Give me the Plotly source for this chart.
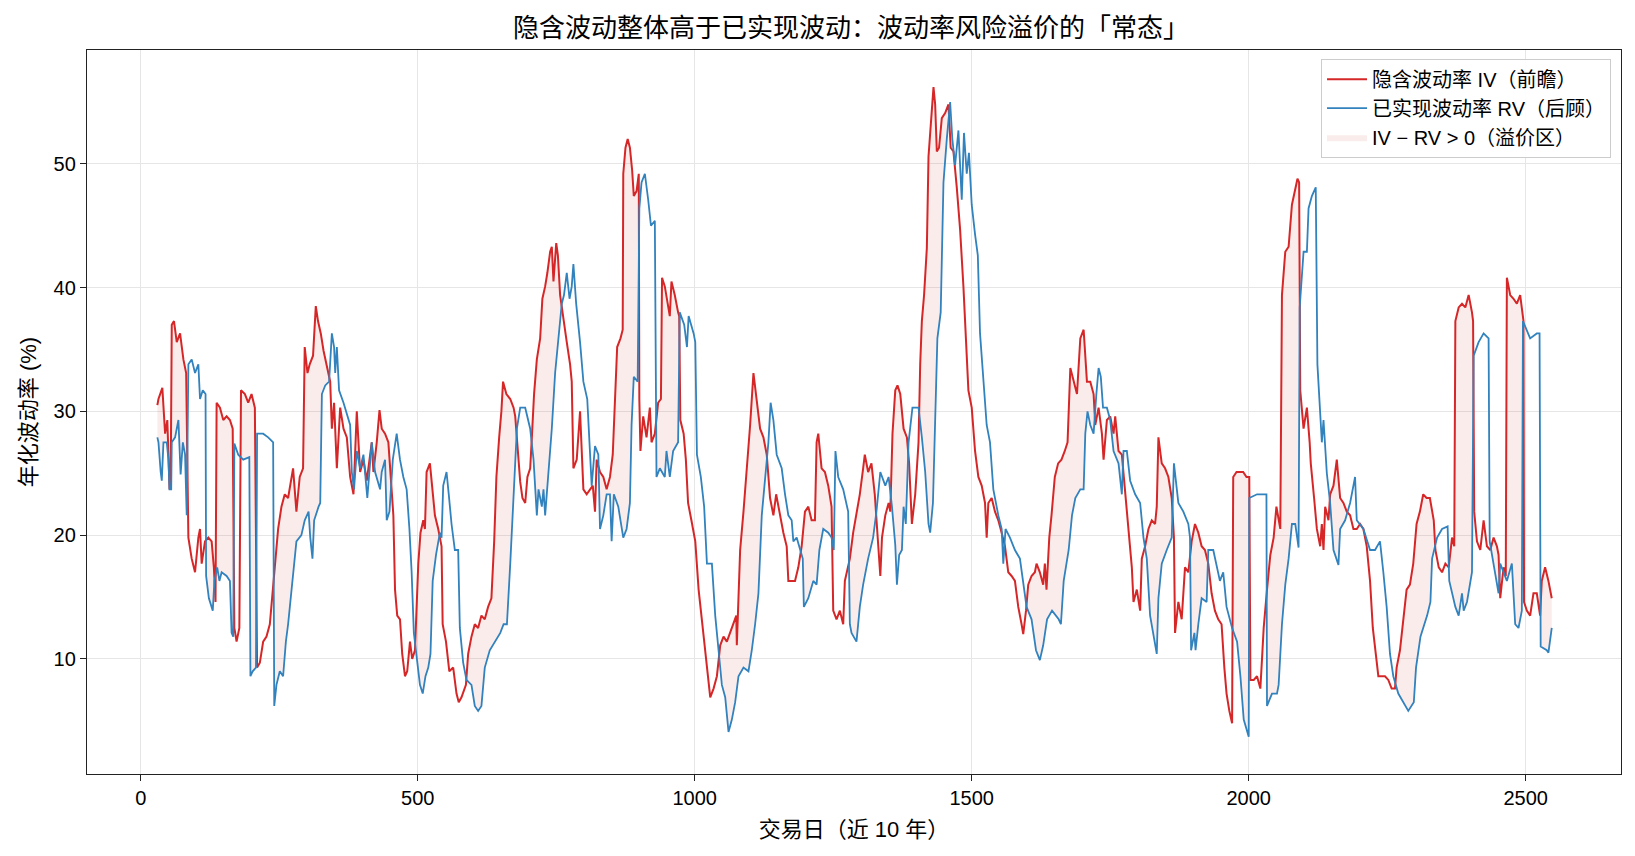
import numpy as np
import plotly.graph_objects as go

# ---- data ----
iv_day = [30,32,39,44,48,52,54,56,60,65,71,77,82,86,92,98,104,107,110,116,122,128,132,135,137,143,149,155,161,166,169,173,178,181,188,194,200,206,210,215,221,227,233,238,242,248,254,260,266,272,275,281,287,293,296,301,305,311,316,320,325,330,336,342,345,349,354,360,366,372,378,384,390,396,402,408,417,420,426,431,435,441,447,451,456,459,463,468,472,477,481,486,490,495,498,501,505,510,513,516,522,527,531,537,543,545,551,557,564,570,574,579,587,591,597,603,609,615,621,627,633,638,642,647,651,654,660,667,673,676,680,685,689,694,698,703,706,710,715,721,725,730,734,739,742,745,750,753,757,763,769,775,778,781,787,793,799,805,811,816,820,823,829,835,841,847,852,856,860,866,870,871,875,879,883,887,890,895,899,900,902,907,913,919,922,928,934,939,941,946,952,955,958,964,970,972,974,980,984,988,994,1001,1007,1013,1019,1023,1028,1034,1040,1046,1052,1058,1064,1070,1075,1076,1079,1082,1088,1094,1100,1106,1112,1118,1124,1130,1136,1142,1147,1154,1160,1166,1169,1175,1181,1187,1193,1199,1205,1211,1217,1220,1223,1229,1235,1241,1247,1250,1256,1262,1268,1271,1277,1280,1286,1292,1298,1304,1307,1313,1319,1325,1331,1335,1338,1344,1350,1353,1357,1362,1366,1371,1377,1383,1387,1392,1398,1404,1407,1410,1414,1419,1422,1426,1431,1434,1437,1441,1446,1452,1458,1462,1467,1473,1479,1485,1490,1494,1500,1506,1512,1518,1524,1527,1530,1536,1542,1548,1554,1560,1566,1572,1578,1584,1590,1593,1598,1602,1608,1614,1617,1623,1629,1632,1635,1640,1644,1650,1656,1662,1668,1673,1678,1684,1690,1696,1702,1708,1714,1720,1723,1729,1735,1738,1744,1750,1756,1759,1765,1771,1777,1783,1789,1792,1798,1804,1807,1813,1819,1825,1831,1834,1837,1843,1849,1855,1861,1865,1867,1873,1879,1885,1891,1897,1903,1909,1915,1921,1927,1933,1939,1945,1951,1956,1960,1965,1970,1972,1978,1984,1990,1996,2001,2003,2009,2015,2021,2024,2027,2033,2039,2045,2050,2057,2060,2066,2072,2078,2084,2088,2091,2093,2099,2105,2110,2112,2118,2123,2129,2132,2135,2138,2144,2147,2153,2159,2165,2171,2177,2183,2189,2195,2201,2207,2213,2219,2224,2228,2234,2240,2246,2252,2258,2264,2267,2273,2279,2285,2291,2297,2303,2309,2315,2321,2327,2334,2337,2343,2349,2355,2361,2367,2371,2373,2379,2385,2391,2397,2403,2405,2407,2412,2418,2424,2430,2436,2442,2448,2451,2454,2460,2464,2466,2472,2478,2484,2490,2496,2497,2502,2508,2514,2520,2526,2529,2535,2541,2547]
iv_val = [30.5,31.0,31.9,28.2,29.3,23.7,23.9,37.0,37.3,35.6,36.3,34.2,33.1,19.8,18.1,17.0,19.8,20.5,17.7,19.5,19.8,19.5,17.4,14.6,30.7,30.3,29.3,29.6,29.3,28.6,12.5,11.4,12.5,31.7,31.4,30.7,31.4,30.3,9.3,9.7,11.4,11.8,12.8,15.3,17.4,20.5,22.3,23.3,23.0,24.7,25.4,21.9,24.7,25.4,35.2,33.1,33.8,34.5,38.5,37.3,36.3,34.9,33.5,32.4,28.6,30.7,25.4,30.3,28.6,27.9,24.7,23.3,30.0,25.1,26.1,24.4,27.5,25.1,27.5,30.1,28.6,28.2,27.5,24.7,21.6,15.6,13.5,13.2,10.4,8.6,9.0,11.4,10.0,10.7,14.2,17.7,20.2,21.2,20.5,25.1,25.8,23.3,21.6,20.5,19.1,12.8,11.4,9.0,9.3,7.2,6.5,6.9,7.9,10.4,11.8,12.8,12.5,13.5,13.2,14.2,14.9,19.5,24.7,27.9,30.0,32.4,31.4,31.0,30.3,29.6,27.2,24.3,23.0,22.6,24.7,25.4,27.9,31.4,34.2,35.9,39.1,40.1,41.2,42.9,43.3,40.5,43.6,42.6,39.4,37.3,35.6,33.8,32.4,25.4,26.1,30.0,23.7,23.3,23.7,24.0,21.9,26.1,25.1,24.7,23.7,24.7,26.5,31.0,35.2,35.9,36.6,49.2,51.3,52.0,51.3,49.5,47.4,47.8,49.2,31.0,26.8,29.6,27.9,30.3,27.5,28.2,30.7,31.0,40.8,40.1,38.7,37.7,40.5,39.4,38.0,37.7,29.3,28.2,26.1,22.6,21.2,19.5,15.6,13.2,10.4,9.3,6.9,7.6,8.6,11.1,11.8,11.4,12.1,12.8,13.5,11.1,14.9,18.8,21.9,25.1,28.9,33.1,31.0,28.6,27.9,26.5,23.0,21.6,23.3,21.6,20.2,19.1,16.3,16.3,16.3,17.4,19.1,21.9,22.3,21.2,21.2,27.5,28.2,25.4,25.1,24.0,22.3,13.9,13.2,13.9,12.8,16.3,17.7,18.1,20.2,21.6,23.3,25.4,26.5,25.1,25.8,23.3,19.8,16.7,19.8,21.6,22.6,21.9,28.2,31.7,32.1,31.4,28.6,27.9,25.8,20.9,23.3,27.5,33.8,37.3,39.4,43.2,50.6,53.4,56.2,54.8,51.0,51.3,53.7,54.1,54.8,51.3,51.0,48.1,44.7,40.1,35.6,31.7,30.3,26.8,24.7,24.0,22.6,19.8,22.6,23.0,21.9,21.2,20.2,19.1,17.0,16.7,16.3,14.2,12.8,12.0,13.9,16.0,16.7,17.0,17.7,17.0,16.0,17.7,15.6,19.8,21.6,24.7,25.8,26.1,26.8,27.5,33.5,32.4,31.4,35.9,36.6,32.4,32.4,31.4,28.9,30.3,28.2,26.1,29.3,29.6,28.2,29.6,26.8,26.5,23.3,20.5,17.4,14.6,15.6,13.9,18.1,19.1,20.5,21.2,20.9,22.3,27.9,25.8,25.4,24.7,23.0,19.8,12.1,14.6,13.2,17.4,17.0,19.5,20.9,20.2,19.1,18.8,17.7,15.3,13.9,13.2,12.8,9.3,7.2,5.8,4.8,24.7,25.1,25.1,25.1,24.7,24.7,8.3,8.3,8.6,7.6,10.0,12.5,15.6,18.4,19.8,22.3,20.5,39.4,42.9,43.3,46.7,48.1,48.8,48.5,31.7,28.6,30.3,27.5,25.8,23.0,20.5,19.1,20.9,18.8,22.3,21.2,23.3,24.0,26.1,23.0,22.6,21.9,21.6,20.5,20.5,20.9,20.5,19.1,16.3,12.5,11.1,8.6,8.6,8.6,8.3,7.6,7.6,9.3,10.7,13.2,15.6,16.0,17.7,20.9,21.9,23.3,23.0,23.0,21.2,18.8,17.4,17.0,17.7,17.4,19.8,19.1,37.3,38.4,38.7,38.4,39.4,38.0,37.3,21.9,19.5,18.8,21.2,19.1,18.8,19.8,19.1,18.4,14.9,17.4,16.7,40.8,39.4,39.1,38.7,39.4,37.3,14.6,13.9,13.5,15.3,15.3,13.5,16.3,17.4,16.3,14.9]

rv_day = [30,32,36,38,41,47,50,52,55,56,62,68,72,76,80,83,86,92,98,104,107,112,117,118,123,130,133,138,142,146,155,161,164,167,169,176,185,196,198,202,208,210,221,230,239,241,245,251,257,262,266,272,277,281,290,296,303,306,310,313,321,324,327,333,340,345,349,351,354,358,366,373,378,381,385,390,396,402,409,417,423,432,435,441,444,449,455,462,468,474,480,485,489,493,499,504,509,514,519,523,527,533,540,543,546,552,556,561,567,573,576,582,588,597,603,609,615,621,630,640,649,655,661,667,673,679,685,694,703,709,715,718,724,727,730,736,742,748,754,760,764,769,774,778,781,786,793,799,806,811,814,820,826,829,835,841,847,850,854,862,871,877,883,886,890,897,900,904,910,916,921,928,931,937,946,949,955,961,970,973,981,986,989,998,1001,1004,1011,1017,1022,1031,1037,1043,1049,1055,1061,1067,1073,1079,1088,1097,1103,1109,1115,1121,1127,1133,1137,1142,1148,1157,1163,1169,1175,1178,1184,1190,1195,1197,1205,1214,1220,1225,1232,1241,1247,1251,1254,1259,1268,1277,1280,1283,1292,1298,1304,1313,1322,1328,1335,1344,1350,1356,1362,1365,1369,1374,1377,1381,1386,1393,1404,1410,1416,1422,1425,1430,1434,1438,1444,1449,1455,1461,1465,1470,1476,1482,1486,1491,1495,1500,1506,1511,1515,1521,1527,1533,1539,1548,1554,1557,1561,1569,1578,1587,1593,1599,1608,1616,1623,1629,1636,1645,1657,1661,1666,1675,1681,1687,1696,1702,1705,1709,1714,1720,1725,1729,1733,1737,1744,1750,1756,1765,1771,1774,1780,1786,1795,1804,1810,1816,1822,1828,1834,1837,1843,1852,1861,1865,1873,1882,1891,1894,1896,1902,1904,1909,1915,1924,1927,1936,1948,1954,1960,1970,1979,1985,1991,2000,2001,2015,2032,2033,2042,2051,2054,2060,2066,2072,2078,2084,2090,2092,2096,2099,2105,2108,2114,2121,2124,2129,2132,2135,2141,2147,2153,2162,2165,2174,2183,2192,2195,2207,2219,2228,2237,2243,2249,2255,2261,2270,2279,2288,2298,2302,2310,2322,2328,2331,2340,2349,2359,2362,2373,2379,2385,2388,2394,2403,2406,2415,2424,2433,2435,2442,2448,2451,2454,2466,2475,2481,2487,2493,2495,2508,2520,2525,2527,2538,2541,2547]
rv_val = [27.9,27.5,25.1,24.4,27.5,27.5,26.1,23.7,23.7,27.5,27.9,29.3,24.9,27.5,26.5,21.6,33.8,34.2,33.1,33.8,31.0,31.7,31.4,16.7,14.9,13.9,16.3,17.4,16.3,17.0,16.7,16.3,12.1,11.8,27.4,26.5,26.1,26.3,8.6,9.0,9.3,28.2,28.2,27.9,27.5,6.2,7.9,9.0,8.6,11.4,12.8,15.3,17.7,19.5,20.0,21.2,21.9,19.8,18.1,21.2,22.3,22.6,31.4,32.1,32.4,36.3,35.2,33.1,35.2,31.7,30.7,29.6,28.9,25.1,23.7,26.8,25.4,26.5,23.0,27.5,25.1,23.7,25.1,26.1,21.2,21.9,26.1,28.2,26.1,24.7,23.7,20.5,17.0,12.1,9.7,7.9,7.2,8.6,9.3,10.4,16.3,18.4,20.2,19.8,24.0,25.1,23.3,20.9,18.8,18.8,12.5,9.7,8.3,7.9,6.2,5.8,6.2,9.3,10.7,11.4,12.1,12.8,12.8,17.7,23.3,28.6,30.3,30.3,28.6,26.1,21.6,23.7,22.3,23.7,21.6,25.1,28.6,33.1,35.9,38.7,39.4,41.2,39.1,40.1,41.9,38.7,35.6,32.4,31.0,26.5,24.0,27.2,26.5,20.5,21.6,23.3,23.3,19.5,23.3,22.3,19.8,20.5,22.6,28.9,32.8,32.4,46.4,48.5,49.2,47.1,45.0,45.4,24.7,25.4,24.7,26.8,24.7,26.8,27.5,38.0,37.0,35.2,37.7,36.3,35.6,26.5,24.7,22.3,17.7,17.7,13.5,10.7,7.9,6.9,4.1,5.1,6.5,8.6,9.3,9.0,10.7,12.8,15.3,21.6,24.7,27.5,30.7,29.3,26.5,25.4,23.3,21.6,21.2,19.5,19.8,18.8,18.1,14.2,14.9,16.3,16.0,18.8,20.5,20.2,19.8,18.8,26.8,24.7,23.7,21.9,12.8,12.1,11.4,14.2,16.0,18.1,19.8,21.9,25.1,24.0,24.7,22.3,19.2,16.0,18.4,18.8,22.3,20.9,27.5,30.3,30.3,27.9,25.1,20.9,20.2,22.6,30.3,35.9,38.0,48.5,52.0,55.0,52.0,49.9,52.7,47.1,52.5,49.2,50.9,46.7,44.3,42.6,36.3,32.4,28.9,27.5,23.7,21.6,20.5,17.7,20.5,19.8,18.8,18.1,16.3,14.2,13.2,10.7,9.9,11.1,13.2,13.9,13.2,12.8,16.3,18.8,21.6,23.0,23.7,23.7,28.2,30.0,28.9,28.2,31.4,33.5,32.8,30.3,30.3,29.3,26.8,25.8,23.3,26.8,26.8,24.4,23.3,22.6,19.8,18.1,13.5,11.8,10.4,14.9,17.7,18.8,19.8,25.8,22.6,21.9,20.9,19.8,10.7,12.1,10.7,12.8,14.9,14.6,18.8,18.8,16.3,17.0,14.2,12.5,11.4,8.6,5.1,3.7,23.0,23.3,23.3,6.2,7.2,7.2,7.9,12.8,16.0,18.1,20.9,20.9,19.0,38.4,40.8,42.9,42.9,46.4,47.4,48.1,33.8,29.6,27.5,29.3,25.0,22.6,18.8,17.6,20.5,21.2,22.6,24.7,21.2,20.5,18.8,18.8,19.5,17.0,14.2,10.4,8.6,7.2,6.5,5.8,6.5,9.3,11.8,13.5,14.6,18.1,19.8,20.5,20.7,16.3,14.2,13.5,15.3,13.9,14.6,17.0,34.5,35.6,36.3,35.9,19.5,17.7,16.3,15.3,17.7,16.3,17.7,12.8,12.5,13.9,37.3,35.9,36.3,36.3,11.0,10.7,10.5,12.5]

x_ticks = [0, 500, 1000, 1500, 2000, 2500]
y_ticks = [10, 20, 30, 40, 50]

title_text = "隐含波动整体高于已实现波动：波动率风险溢价的「常态」"
iv_name = "隐含波动率 IV（前瞻）"
rv_name = "已实现波动率 RV（后顾）"
fill_name = "IV − RV > 0（溢价区）"
x_title = "交易日（近 10 年）"
y_title = "年化波动率 (%)"

RED = "#d62728"
BLUE = "#3182bd"
FONT = "Liberation Sans, Arial, Noto Sans CJK SC, sans-serif"

# fill region (IV above RV) on a common grid
grid = np.arange(iv_day[0], iv_day[-1] + 0.25, 0.5)
ivg = np.interp(grid, iv_day, iv_val)
rvg = np.interp(grid, rv_day, rv_val)
upper = np.maximum(ivg, rvg)

fig = go.Figure()
fig.add_trace(go.Scatter(x=grid, y=rvg, mode="lines", line=dict(width=0, color="rgba(0,0,0,0)"),
                         showlegend=False, hoverinfo="skip"))
fig.add_trace(go.Scatter(x=grid, y=upper, mode="lines", line=dict(width=0, color="rgba(214,39,40,0.12)"),
                         fill="tonexty", fillcolor="rgba(214,39,40,0.09)", name=fill_name,
                         hoverinfo="skip", legendrank=3))
fig.add_trace(go.Scatter(x=iv_day, y=iv_val, mode="lines", line=dict(color=RED, width=2),
                         name=iv_name, legendrank=1))
fig.add_trace(go.Scatter(x=rv_day, y=rv_val, mode="lines", line=dict(color=BLUE, width=1.8),
                         name=rv_name, legendrank=2))

axis_common = dict(showline=True, linecolor="#222222", linewidth=1.3, mirror=True,
                   ticks="outside", ticklen=6, tickcolor="#222222",
                   showgrid=True, gridcolor="#e6e6e6", gridwidth=1, zeroline=False,
                   tickfont=dict(size=20, color="black", family=FONT))

fig.update_layout(
    width=1635, height=856,
    margin=dict(l=87, r=14, t=50, b=82),
    paper_bgcolor="white", plot_bgcolor="white",
    font=dict(family=FONT, color="black"),
    title=dict(text=title_text, x=0.5205, xanchor="center", y=0.967, yanchor="middle",
               font=dict(size=26, color="black", family=FONT)),
    xaxis=dict(range=[-97, 2672], tickvals=x_ticks,
               title=dict(text=x_title, font=dict(size=22), standoff=13), **axis_common),
    yaxis=dict(range=[0.7, 59.2], tickvals=y_ticks,
               title=dict(text=y_title, font=dict(size=22), standoff=10), **axis_common),
    legend=dict(x=0.9935, y=0.988, xanchor="right", yanchor="top",
                bgcolor="rgba(255,255,255,0.9)", bordercolor="#cccccc", borderwidth=1,
                font=dict(size=20, family=FONT), traceorder="normal", itemwidth=40),
    showlegend=True,
)

fig.write_html("out.html")
